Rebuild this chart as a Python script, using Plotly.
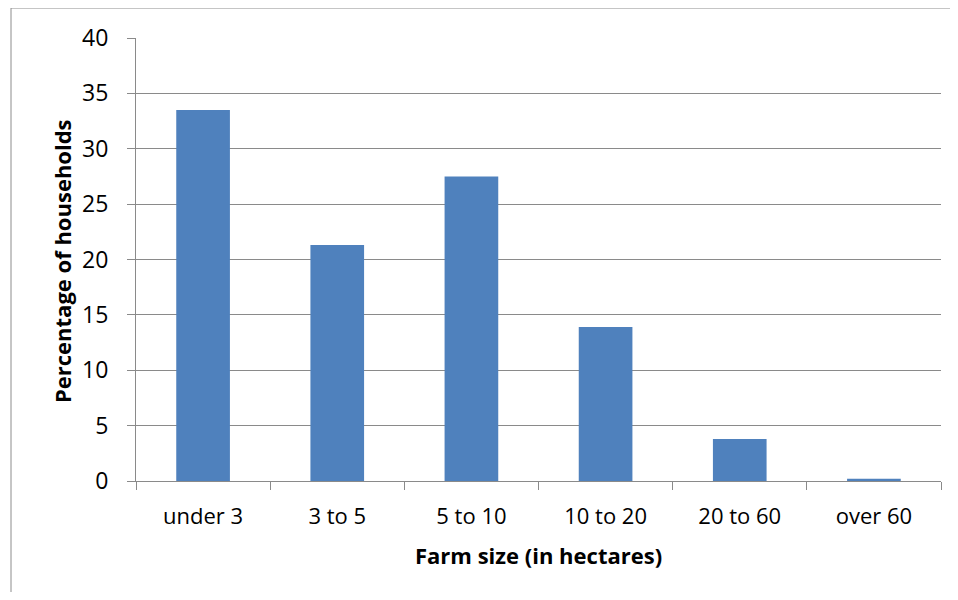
import plotly.graph_objects as go

categories = ["under 3", "3 to 5", "5 to 10", "10 to 20", "20 to 60", "over 60"]
percentages = [33.5, 21.3, 27.5, 13.9, 3.8, 0.2]
y_ticks = [0, 5, 10, 15, 20, 25, 30, 35, 40]

# page body has an 8px margin, so figure coordinates = page coordinates - 8
OFF = 8
W, H = 942, 584
PL, PR, PT, PB = 136, 941, 38, 481  # plot area in page pixels
L = PL - OFF
T = PT - OFF
R = W - (PR - OFF)
B = H - (PB - OFF)
pw = W - L - R
ph = H - T - B

def px_x(px):
    return (px - OFF - L) / pw

def px_y(py):
    return (PB - py) / ph

grid = "#8a8a8a"
font = "Open Sans, Noto Sans, sans-serif"

fig = go.Figure(go.Bar(x=categories, y=percentages, marker=dict(color="#4f81bd", line=dict(width=0)), width=0.4))

fig.update_layout(
    width=W, height=H,
    margin=dict(l=L, r=R, t=T, b=B),
    paper_bgcolor="white", plot_bgcolor="white",
    showlegend=False,
    font=dict(family=font, color="black", size=22),
    xaxis=dict(
        type="category",
        tickson="boundaries", ticks="outside", ticklen=8, tickcolor=grid, tickwidth=1,
        showline=True, linecolor=grid, linewidth=1,
        showgrid=False,
        tickfont=dict(size=22),
        ticklabelstandoff=16,
    ),
    yaxis=dict(
        range=[0, 40], tickvals=y_ticks,
        ticks="outside", ticklen=8, tickcolor=grid, tickwidth=1,
        showline=True, linecolor=grid, linewidth=1,
        showgrid=True, gridcolor=grid, gridwidth=1,
        zeroline=False,
        tickfont=dict(size=23),
        ticklabelstandoff=14,
    ),
    annotations=[
        dict(text="<b>Farm size (in hectares)</b>", xref="paper", yref="paper",
             x=0.5, y=px_y(555), xanchor="center", yanchor="middle", showarrow=False,
             font=dict(size=22)),
        dict(text="<b>Percentage of households</b>", xref="paper", yref="paper",
             x=px_x(62), y=px_y(261), xanchor="center", yanchor="middle", showarrow=False,
             textangle=-90, font=dict(size=22)),
    ],
    shapes=[
        dict(type="line", xref="paper", yref="paper", x0=px_x(11), x1=px_x(11), y0=px_y(620), y1=px_y(8),
             line=dict(color="#8c8c8c", width=1)),
        dict(type="line", xref="paper", yref="paper", x0=px_x(11), x1=px_x(970), y0=px_y(8), y1=px_y(8),
             line=dict(color="#8c8c8c", width=1)),
    ],
)

fig.write_html("out.html")
